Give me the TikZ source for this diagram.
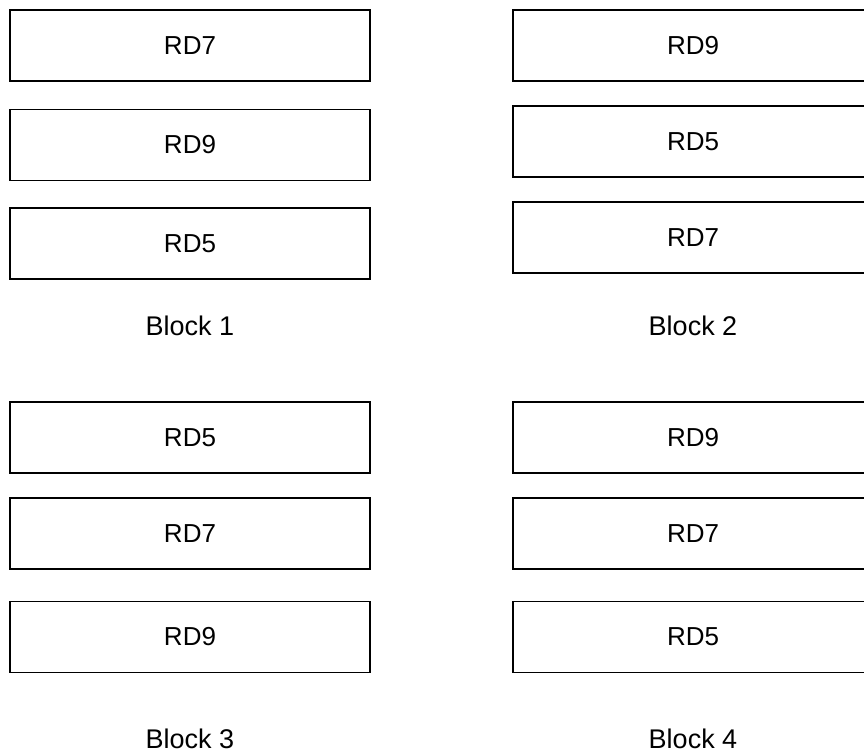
\documentclass[tikz,border=0pt]{standalone}
\usepackage{fontspec}
\setmainfont{Liberation Sans}
\usepackage{tikz}

\tikzset{
  plotbox/.style={draw=black,line width=1.6pt,minimum width=360pt,minimum height=71pt,inner sep=0pt,font=\fontsize{26}{30}\selectfont},
  blocklabel/.style={inner sep=0pt,font=\fontsize{27}{32}\selectfont}
}

\begin{document}
\begin{tikzpicture}[x=1pt,y=-1pt]
\useasboundingbox (0,0) rectangle (864,754);
\clip (0,0) rectangle (864,754);
% Block 1
\node[plotbox] (b1a) at (190,45.5){RD7};
\node[plotbox] (b1b) at (190,145){RD9};
\node[plotbox] (b1c) at (190,243.5){RD5};
\node[blocklabel] (lab1) at (190,326){Block 1};
% Block 2
\node[plotbox] (b2a) at (693,45.5){RD9};
\node[plotbox] (b2b) at (693,141.5){RD5};
\node[plotbox] (b2c) at (693,237.5){RD7};
\node[blocklabel] (lab2) at (693,326){Block 2};
% Block 3
\node[plotbox] (b3a) at (190,437.5){RD5};
\node[plotbox] (b3b) at (190,533.5){RD7};
\node[plotbox] (b3c) at (190,637){RD9};
\node[blocklabel] (lab3) at (190,739){Block 3};
% Block 4
\node[plotbox] (b4a) at (693,437.5){RD9};
\node[plotbox] (b4b) at (693,533.5){RD7};
\node[plotbox] (b4c) at (693,637){RD5};
\node[blocklabel] (lab4) at (693,739){Block 4};
\end{tikzpicture}
\end{document}
